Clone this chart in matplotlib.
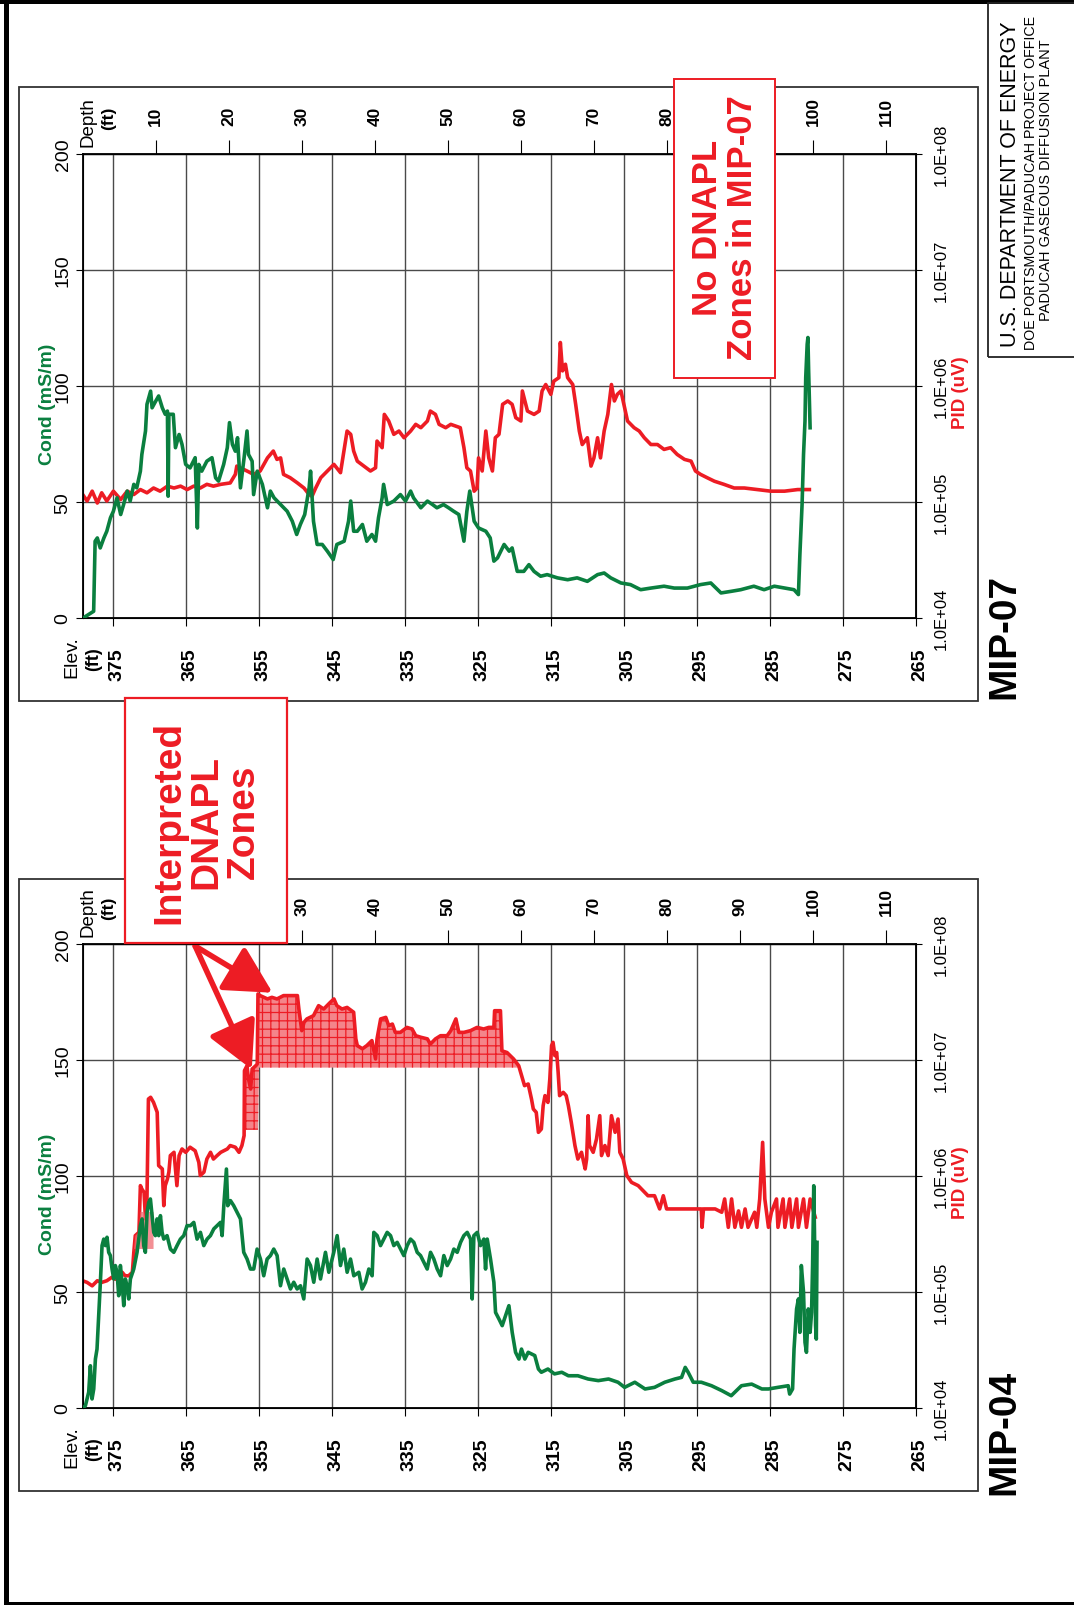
import numpy as np
import matplotlib.pyplot as plt
import matplotlib.transforms as mtransforms
from matplotlib.patches import Rectangle
from matplotlib.ticker import NullLocator

W, H = 1074, 1606
SURFACE = 379.1  # ground elevation at the boring (ft)

# ---------------- MIP-07 ----------------
mip07_cond_depth = [
    0.1, 0.4, 1.5, 1.7, 2.0, 2.4, 2.9, 3.3, 3.8, 4.2,
    4.7, 5.2, 5.6, 6.1, 6.5, 7.0, 7.4, 7.9, 8.1, 8.6,
    8.8, 9.3, 9.5, 10.0, 10.4, 10.9, 11.3, 11.6, 11.7, 11.8,
    12.4, 12.7, 13.2, 13.6, 14.1, 14.7, 15.4, 15.7, 15.9, 16.3,
    17.0, 17.7, 18.2, 18.6, 19.3, 19.8, 20.1, 20.5, 20.9, 21.2,
    21.6, 22.1, 22.5, 22.7, 23.2, 23.4, 23.9, 24.6, 25.3, 25.7,
    26.2, 27.1, 28.0, 28.7, 29.3, 29.8, 30.4, 31.0, 31.2, 31.6,
    32.1, 32.8, 33.5, 34.3, 34.8, 35.8, 36.4, 36.7, 37.1, 37.6,
    38.3, 38.9, 39.6, 40.1, 40.5, 41.0, 41.2, 41.7, 42.6, 43.5,
    44.2, 44.9, 45.3, 46.3, 47.2, 47.9, 48.5, 49.4, 50.1, 50.8,
    51.5, 52.2, 52.6, 53.0, 53.6, 54.2, 55.2, 55.8, 56.3, 56.8,
    57.7, 58.4, 58.8, 59.5, 60.4, 61.1, 61.8, 62.7, 63.6, 65.0,
    66.4, 67.7, 69.1, 70.5, 71.4, 72.3, 73.7, 75.0, 76.4, 77.8,
    79.6, 81.0, 82.8, 84.6, 86.0, 87.4, 88.8, 90.1, 91.9, 93.3,
    94.7, 96.1, 97.4, 98.0, 98.2, 98.5, 98.7, 98.9, 99.0, 99.2,
    99.3, 99.4, 99.5, 99.6,
]
mip07_cond = [
    0, 0.7, 2.9, 33.1, 34.5, 30.2, 34.5, 37.4, 43.2, 46.0,
    51.8, 44.6, 48.9, 54.7, 50.4, 57.6, 56.1, 63.3, 70.5, 80.6,
    92.1, 97.8, 90.6, 93.5, 95.7, 90.6, 87.8, 89.2, 52.5, 87.8,
    87.8, 73.4, 79.1, 74.8, 66.2, 64.7, 69.1, 38.8, 66.2, 63.3,
    67.6, 69.1, 60.4, 59.0, 66.2, 73.4, 84.2, 74.8, 71.9, 77.7,
    56.1, 69.1, 80.6, 70.5, 67.6, 53.2, 63.3, 57.6, 47.5, 54.7,
    51.8, 48.9, 46.0, 41.7, 36.0, 40.3, 44.6, 56.1, 63.3, 41.7,
    31.7, 31.7, 28.8, 25.2, 31.7, 33.1, 41.7, 50.4, 37.4, 37.4,
    40.3, 33.1, 36.0, 33.1, 43.2, 51.8, 57.6, 48.9, 50.4, 53.2,
    50.4, 54.7, 51.8, 47.5, 50.4, 48.9, 47.5, 48.9, 47.5, 46.0,
    44.6, 33.1, 46.0, 54.7, 41.7, 38.8, 37.4, 34.5, 24.5, 25.9,
    31.7, 28.8, 30.2, 20.1, 20.1, 23.0, 20.1, 18.0, 18.7, 17.3,
    16.5, 17.3, 15.8, 18.7, 19.4, 17.3, 15.1, 14.4, 12.2, 12.9,
    13.7, 12.9, 12.9, 14.4, 15.1, 10.8, 11.5, 12.2, 13.7, 12.2,
    13.7, 12.9, 12.2, 10.1, 27.3, 48.9, 70.5, 84.9, 103.6, 118.0,
    120.9, 106.5, 95.0, 82.0,
]
mip07_pid_depth = [
    0.0, 0.6, 1.3, 2.0, 2.6, 3.3, 4.2, 5.2, 6.1, 7.0,
    7.9, 8.8, 9.7, 10.6, 11.6, 12.5, 13.4, 14.3, 15.2, 16.1,
    17.0, 17.9, 18.9, 20.2, 20.9, 21.1, 21.6, 22.5, 23.4, 24.3,
    25.3, 26.1, 26.6, 27.1, 27.5, 28.4, 29.4, 30.3, 31.0, 31.4,
    31.9, 32.6, 33.5, 34.4, 35.3, 36.2, 36.7, 37.1, 37.6, 38.5,
    39.4, 40.1, 40.3, 41.0, 41.3, 41.9, 42.6, 43.3, 44.0, 44.9,
    45.6, 46.3, 47.2, 47.6, 48.3, 48.8, 49.7, 50.4, 51.7, 52.2,
    52.6, 53.1, 53.6, 54.0, 54.2, 54.7, 55.2, 55.6, 56.1, 56.5,
    57.0, 57.5, 58.2, 58.8, 59.3, 60.0, 60.2, 60.9, 61.8, 62.5,
    62.9, 63.4, 64.1, 64.5, 65.2, 65.4, 65.7, 66.1, 66.4, 67.1,
    67.5, 68.0, 68.4, 69.1, 69.6, 70.0, 70.5, 70.9, 71.4, 71.9,
    72.4, 72.8, 73.2, 73.7, 74.1, 74.6, 75.5, 76.2, 76.9, 77.8,
    78.7, 79.6, 80.5, 81.4, 82.4, 83.3, 83.9, 84.6, 85.5, 86.5,
    87.8, 89.2, 90.6, 92.4, 94.2, 96.1, 97.9, 99.5,
]
mip07_pid = [
    1.16e5, 1.02e5, 1.24e5, 9.8e4, 1.20e5, 1.02e5, 1.24e5, 1.05e5, 1.24e5, 1.16e5,
    1.28e5, 1.20e5, 1.32e5, 1.24e5, 1.37e5, 1.32e5, 1.37e5, 1.28e5, 1.37e5, 1.32e5,
    1.42e5, 1.37e5, 1.42e5, 1.46e5, 1.73e5, 2.04e5, 1.97e5, 1.85e5, 1.73e5, 1.85e5,
    2.40e5, 2.75e5, 2.33e5, 2.40e5, 1.73e5, 1.62e5, 1.46e5, 1.32e5, 1.16e5, 1.12e5,
    1.32e5, 1.62e5, 1.85e5, 2.11e5, 1.79e5, 4.09e5, 3.83e5, 2.75e5, 2.25e5, 2.04e5,
    1.85e5, 1.97e5, 3.35e5, 2.94e5, 5.69e5, 4.99e5, 3.83e5, 4.09e5, 3.58e5, 4.09e5,
    4.67e5, 4.37e5, 4.99e5, 6.08e5, 5.69e5, 4.67e5, 4.37e5, 4.67e5, 4.37e5, 2.94e5,
    1.97e5, 1.85e5, 1.24e5, 1.32e5, 2.40e5, 1.85e5, 4.09e5, 2.40e5, 1.85e5, 3.58e5,
    3.83e5, 6.95e5, 7.43e5, 6.95e5, 5.33e5, 4.99e5, 9.06e5, 6.08e5, 5.69e5, 6.08e5,
    9.06e5, 1.03e6, 8.47e5, 1.10e6, 1.18e6, 2.37e6, 1.35e6, 1.54e6, 1.18e6, 1.03e6,
    6.95e5, 4.09e5, 3.13e5, 3.58e5, 2.04e5, 2.40e5, 3.58e5, 2.40e5, 4.09e5, 5.69e5,
    1.03e6, 7.43e5, 8.47e5, 9.06e5, 6.95e5, 4.99e5, 4.37e5, 4.09e5, 3.58e5, 3.13e5,
    3.13e5, 2.84e5, 2.94e5, 2.57e5, 2.33e5, 2.25e5, 1.85e5, 1.73e5, 1.62e5, 1.51e5,
    1.42e5, 1.32e5, 1.32e5, 1.28e5, 1.24e5, 1.24e5, 1.28e5, 1.28e5,
]

# ---------------- MIP-04 ----------------
mip04_cond_depth = [
    0.14, 0.37, 0.82, 1.05, 1.28, 1.51, 1.74, 1.96, 2.19, 2.42,
    2.65, 2.88, 3.11, 3.33, 3.56, 3.79, 4.02, 4.25, 4.47, 4.70,
    4.93, 5.16, 5.39, 5.62, 5.84, 6.07, 6.30, 6.53, 6.99, 7.44,
    7.67, 7.90, 8.13, 8.36, 8.58, 8.81, 9.04, 9.27, 9.50, 9.73,
    9.95, 10.18, 10.41, 10.64, 10.87, 11.10, 11.55, 12.01, 12.47, 12.92,
    13.38, 13.84, 14.29, 14.75, 15.21, 15.66, 16.12, 16.58, 17.03, 17.49,
    17.95, 18.40, 18.86, 19.09, 19.32, 19.68, 19.86, 20.23, 20.68, 21.14,
    21.60, 22.05, 22.51, 22.97, 23.42, 23.88, 24.34, 24.79, 25.25, 25.71,
    26.16, 26.62, 27.08, 27.53, 27.99, 28.45, 28.90, 29.36, 29.82, 30.27,
    30.73, 31.19, 31.64, 32.10, 32.56, 33.24, 33.70, 34.38, 34.84, 35.30,
    35.75, 36.21, 36.67, 37.12, 37.81, 38.26, 38.72, 39.18, 39.63, 39.86,
    40.32, 40.78, 41.23, 41.69, 42.15, 42.60, 43.06, 43.52, 43.97, 44.43,
    44.89, 45.34, 45.80, 46.26, 46.71, 47.17, 47.63, 48.08, 48.54, 49.00,
    49.45, 49.91, 50.37, 50.82, 51.28, 51.74, 52.19, 52.65, 53.11, 53.33,
    53.56, 54.02, 54.47, 54.93, 55.16, 55.39, 55.84, 56.30, 56.53, 56.99,
    57.44, 57.90, 58.36, 58.81, 59.27, 59.73, 60.08, 60.54, 61.0, 61.9,
    62.4, 62.8, 63.7, 64.6, 65.6, 66.5, 67.8, 69.2, 70.6, 72.0,
    73.3, 74.2, 75.6, 77.0, 78.3, 79.7, 81.1, 82.0, 82.5, 82.9,
    83.6, 84.7, 86.1, 87.5, 88.8, 90.2, 91.6, 93.0, 93.9, 95.2,
    96.6, 96.8, 97.2, 97.4, 97.75, 98.0, 98.2, 98.4, 98.7, 98.9,
    99.1, 99.35, 99.6, 99.8, 99.94, 100.1, 100.2, 100.35, 100.45, 100.55,
]
mip04_cond = [
    0.3, 1.0, 6.8, 18.2, 3.9, 8.2, 21.1, 25.4, 39.8, 54.2,
    70.0, 72.8, 70.0, 73.6, 67.1, 65.7, 59.9, 55.6, 61.4, 58.5,
    48.4, 61.4, 54.2, 44.1, 55.6, 52.7, 47.0, 55.6, 59.9, 67.1,
    72.8, 78.6, 81.5, 70.0, 67.1, 84.3, 88.6, 90.1, 82.9, 75.7,
    74.3, 81.5, 74.3, 82.9, 75.7, 72.8, 74.3, 68.5, 67.1, 70.0,
    72.8, 74.3, 78.6, 78.6, 80.0, 72.8, 75.7, 70.0, 72.8, 74.3,
    77.2, 78.6, 80.0, 74.3, 87.2, 103.0, 87.2, 89.4, 87.2, 84.3,
    81.5, 67.1, 64.2, 59.9, 59.9, 68.5, 64.2, 57.0, 64.2, 65.7,
    68.5, 65.7, 52.7, 59.9, 55.6, 51.3, 54.2, 51.3, 52.7, 47.0,
    64.2, 61.4, 54.2, 64.2, 55.6, 67.1, 58.5, 67.1, 74.3, 61.4,
    68.5, 58.5, 64.2, 57.0, 58.5, 51.3, 54.2, 59.9, 57.0, 75.7,
    74.3, 70.0, 72.8, 75.7, 74.3, 70.0, 71.4, 68.5, 65.7, 70.0,
    72.8, 71.4, 67.1, 65.7, 62.8, 59.9, 67.1, 64.2, 59.9, 57.0,
    65.7, 61.4, 64.2, 68.5, 67.1, 71.4, 74.3, 75.7, 72.8, 47.0,
    74.3, 75.7, 70.0, 72.8, 59.9, 72.8, 64.2, 54.2, 41.2, 38.4,
    35.5, 39.8, 44.1, 32.6, 24.0, 21.1, 25.4, 21.1, 24.0, 22.6,
    16.8, 15.4, 16.8, 14.7, 15.4, 13.9, 13.9, 12.5, 11.8, 12.5,
    11.1, 8.9, 11.1, 8.2, 8.9, 11.1, 12.5, 13.2, 17.5, 15.4,
    11.1, 11.1, 9.6, 7.5, 5.3, 9.6, 10.3, 8.2, 8.2, 8.9,
    9.6, 6.0, 8.2, 25.4, 42.7, 47.0, 32.6, 61.4, 49.9, 28.3,
    24.0, 42.7, 32.6, 41.2, 61.4, 95.8, 75.7, 35.5, 29.7, 71.4,
]
mip04_pid_depth = [
    0.0, 0.6, 1.3, 2.0, 2.6, 3.3, 4.0, 4.5, 4.9, 5.4,
    5.8, 6.3, 6.8, 7.0, 7.2, 7.7, 7.9, 8.1, 8.4, 8.6,
    8.8, 9.0, 9.3, 9.7, 10.2, 10.4, 10.9, 11.1, 11.3, 11.6,
    11.8, 12.0, 12.5, 12.9, 13.2, 13.6, 14.1, 14.7, 15.4, 15.9,
    16.1, 16.6, 17.0, 17.5, 17.9, 18.4, 18.9, 19.8, 20.2, 20.9,
    21.4, 21.8, 22.1, 22.15, 22.5, 22.7, 23.0, 23.2, 23.7, 23.9,
    24.0, 24.3, 25.3, 25.9, 26.6, 27.5, 29.4, 29.6, 30.0, 30.3,
    30.7, 31.6, 32.3, 33.0, 33.9, 34.4, 34.8, 35.5, 36.2, 37.1,
    37.4, 37.6, 38.3, 38.9, 39.6, 40.1, 40.3, 40.8, 41.5, 41.9,
    42.4, 42.8, 43.5, 44.4, 45.1, 45.6, 46.3, 47.2, 47.6, 48.3,
    49.0, 49.9, 50.4, 51.1, 51.5, 52.2, 53.1, 54.0, 54.9, 55.6,
    56.3, 56.4, 57.2, 57.4, 58.1, 59.0, 59.7, 60.5, 61.0, 61.45,
    61.7, 62.1, 62.4, 62.8, 63.05, 63.3, 63.7, 63.96, 64.2, 64.4,
    64.65, 64.9, 65.1, 65.3, 65.8, 66.2, 66.5, 66.9, 67.4, 67.8,
    68.3, 68.8, 69.0, 69.2, 69.4, 69.9, 70.35, 70.8, 71.04, 71.5,
    71.95, 72.4, 72.9, 73.3, 73.55, 74.0, 74.5, 75.15, 76.06, 76.5,
    77.4, 78.3, 79.0, 79.5, 79.95, 81.1, 82.9, 84.7, 84.8, 85.0,
    86.6, 87.5, 87.9, 88.4, 88.85, 89.3, 89.8, 90.2, 90.7, 91.1,
    92.0, 92.3, 92.7, 93.1, 93.4, 93.9, 94.3, 95.0, 95.2, 95.9,
    96.15, 96.8, 97.1, 97.75, 98.0, 98.7, 99.1, 99.6, 100.3,
]
mip04_pid = [
    1.25e5, 1.21e5, 1.13e5, 1.25e5, 1.21e5, 1.25e5, 1.34e5, 1.29e5, 1.43e5, 1.48e5,
    1.38e5, 1.38e5, 1.48e5, 2.20e5, 3.06e5, 3.27e5, 8.26e5, 7.73e5, 7.23e5, 4.26e5,
    6.34e5, 4.61e6, 4.77e6, 4.31e6, 3.54e6, 1.23e6, 1.15e6, 5.55e5, 8.26e5, 9.42e5,
    1.08e6, 1.50e6, 1.60e6, 8.26e5, 1.50e6, 1.71e6, 1.60e6, 1.77e6, 1.65e6, 1.31e6,
    1.01e6, 1.08e6, 1.40e6, 1.60e6, 1.40e6, 1.50e6, 1.60e6, 1.71e6, 1.83e6, 1.77e6,
    1.60e6, 1.83e6, 2.23e6, 8.09e6, 8.93e6, 6.85e6, 5.62e6, 8.36e6, 8.93e6, 9.24e6,
    3.71e7, 3.59e7, 3.36e7, 3.47e7, 3.36e7, 3.59e7, 3.59e7, 2.75e7, 1.79e7, 2.11e7,
    2.26e7, 2.41e7, 2.94e7, 2.75e7, 3.14e7, 3.36e7, 2.94e7, 2.75e7, 2.84e7, 2.58e7,
    1.52e7, 1.33e7, 1.25e7, 1.33e7, 1.47e7, 1.02e7, 1.52e7, 2.26e7, 2.33e7, 1.98e7,
    2.04e7, 1.73e7, 1.73e7, 1.91e7, 1.85e7, 1.62e7, 1.57e7, 1.52e7, 1.37e7, 1.52e7,
    1.62e7, 1.62e7, 1.79e7, 2.26e7, 1.73e7, 1.73e7, 1.79e7, 1.91e7, 1.85e7, 1.91e7,
    1.91e7, 2.66e7, 2.66e7, 1.20e7, 1.16e7, 1.02e7, 8.93e6, 6.01e6, 6.21e6, 4.61e6,
    3.78e6, 3.54e6, 2.38e6, 2.54e6, 4.04e6, 4.93e6, 4.31e6, 6.85e6, 1.33e7, 1.42e7,
    1.09e7, 1.16e7, 7.83e6, 4.93e6, 5.26e6, 4.93e6, 4.04e6, 2.90e6, 1.83e6, 1.40e6,
    1.60e6, 1.15e6, 1.40e6, 3.31e6, 1.83e6, 1.60e6, 2.08e6, 3.31e6, 1.50e6, 1.83e6,
    1.50e6, 3.31e6, 2.38e6, 3.10e6, 1.60e6, 1.40e6, 1.01e6, 8.81e5, 8.26e5, 7.73e5,
    6.76e5, 6.76e5, 5.20e5, 6.76e5, 5.20e5, 5.20e5, 5.20e5, 5.20e5, 3.61e5, 5.20e5,
    5.20e5, 4.87e5, 6.34e5, 3.61e5, 6.34e5, 3.61e5, 5.00e5, 3.61e5, 5.20e5, 3.61e5,
    4.87e5, 3.61e5, 6.34e5, 1.95e6, 6.34e5, 3.61e5, 4.87e5, 6.34e5, 3.61e5, 6.34e5,
    3.61e5, 6.34e5, 3.61e5, 6.34e5, 3.61e5, 6.34e5, 3.61e5, 6.34e5, 4.41e5,
]

# interpreted DNAPL intervals in MIP-04: (top depth, bottom depth, lower PID bound)
dnapl_zones = [(23.95, 60.6, 8.6e6), (21.8, 24.0, 2.5e6)]
dnapl_minor = (7.0, 10.1, 2.35e5, 4.9e5)

elev_ticks = [375, 365, 355, 345, 335, 325, 315, 305, 295, 285, 275, 265]
depth_ticks = [10, 20, 30, 40, 50, 60, 70, 80, 90, 100, 110]
cond_ticks = [0, 50, 100, 150, 200]
pid_ticks = [1e4, 1e5, 1e6, 1e7, 1e8]
pid_labels = ['1.0E+04', '1.0E+05', '1.0E+06', '1.0E+07', '1.0E+08']

RED = '#ED1C24'
GREEN = '#0A7F3F'
GRID = '#4a4a4a'

plt.rcParams['font.family'] = 'Liberation Sans'
plt.rcParams['hatch.linewidth'] = 0.9

fig = plt.figure(figsize=(W / 100, H / 100), dpi=100)


def page_rect(x0, y0, x1, y1, **kw):
    r = Rectangle((x0 / W, 1 - y1 / H), (x1 - x0) / W, (y1 - y0) / H,
                  transform=fig.transFigure, **kw)
    fig.add_artist(r)
    return r


def page_text(x, y, s, **kw):
    kw.setdefault('rotation', 90)
    kw.setdefault('ha', 'center')
    kw.setdefault('va', 'center')
    kw.setdefault('zorder', 7)
    return fig.text(x / W, 1 - y / H, s, **kw)


def draw_log(top, cond_depth, cond, pid_depth, pid, covered=()):
    left, right, height = 82.7, 916, 464
    ax = fig.add_axes([left / W, 1 - (top + height) / H, (right - left) / W, height / H])
    ax.set_xlim(SURFACE, 265)
    ax.set_yscale('log')
    ax.set_ylim(1e4, 1e8)

    # elevation along the bottom
    ax.set_xticks(elev_ticks)
    ax.set_xticklabels([str(e) for e in elev_ticks], rotation=90, fontsize=14,
                       fontweight='bold')
    ax.tick_params(axis='x', length=6, pad=15)
    shift = mtransforms.ScaledTranslation(4 / 100, 0, fig.dpi_scale_trans)
    for lab in ax.get_xticklabels():
        lab.set_transform(lab.get_transform() + shift)

    ax.grid(True, color=GRID, lw=1.0)
    for sp in ax.spines.values():
        sp.set_linewidth(1.3)

    # depth along the top (labels under a callout box are left blank)
    dax = ax.secondary_xaxis('top', functions=(lambda e: SURFACE - e, lambda d: SURFACE - d))
    dax.set_xticks(depth_ticks)
    dax.set_xticklabels(['' if d in covered else str(d) for d in depth_ticks],
                        rotation=90, fontsize=12.5, fontweight='bold')
    dax.tick_params(length=10, pad=11)

    ax.plot(SURFACE - np.array(pid_depth), pid, color=RED, lw=2.6,
            solid_joinstyle='round', zorder=3)

    cax = ax.twinx()
    cax.yaxis.tick_left()
    cax.set_ylim(0, 200)
    cax.set_yticks(cond_ticks)
    cax.set_yticklabels([str(c) for c in cond_ticks], rotation=90, va='center', fontsize=14)
    cax.tick_params(axis='y', length=5, pad=3)
    cax.plot(SURFACE - np.array(cond_depth), cond, color=GREEN, lw=2.6,
             solid_joinstyle='round', zorder=3)

    # PID scale on the right (after twinx, which moves it)
    ax.yaxis.tick_right()
    ax.set_yticks(pid_ticks)
    ax.set_yticklabels(pid_labels, rotation=90, va='center', fontsize=12)
    ax.yaxis.set_minor_locator(NullLocator())
    ax.tick_params(axis='y', length=4, pad=9)

    # axis captions
    ax.text(-0.0134, -0.082, 'Elev.', transform=ax.transAxes, rotation=90,
            ha='center', va='center', fontsize=14)
    ax.text(0.0136, -0.086, '(ft)', transform=ax.transAxes, rotation=90,
            ha='center', va='center', fontsize=13, fontweight='bold')
    ax.text(0.006, 1.071, 'Depth', transform=ax.transAxes, rotation=90,
            ha='center', va='center', fontsize=13.5)
    ax.text(0.031, 1.079, '(ft)', transform=ax.transAxes, rotation=90,
            ha='center', va='center', fontsize=12.5, fontweight='bold')
    ax.text(-0.042, 0.463, 'Cond (mS/m)', transform=ax.transAxes, rotation=90,
            ha='center', va='center', fontsize=14, fontweight='bold', color=GREEN)
    ax.text(1.053, 0.487, 'PID (uV)', transform=ax.transAxes, rotation=90,
            ha='center', va='center', fontsize=13.5, fontweight='bold', color=RED)
    return ax


# page frame
page_rect(0, 0, W, 5, facecolor='black', edgecolor='none')
page_rect(4, 0, 9, H, facecolor='black', edgecolor='none')
page_rect(4, 1603, W, H, facecolor='black', edgecolor='none')

# panel borders
page_rect(19, 88, 978, 702, facecolor='none', edgecolor='#333333', lw=1.3)
page_rect(19, 880, 978, 1492, facecolor='none', edgecolor='#333333', lw=1.3)

# title block
page_rect(988, 4, W + 5, 358, facecolor='none', edgecolor='#222222', lw=1.3)
page_text(1010, 184, 'U.S. DEPARTMENT OF ENERGY', fontsize=15.5)
page_text(1031, 183, 'DOE PORTSMOUTH/PADUCAH PROJECT OFFICE', fontsize=10.3)
page_text(1046, 180, 'PADUCAH GASEOUS DIFFUSION PLANT', fontsize=10.5)

ax07 = draw_log(155, mip07_cond_depth, mip07_cond, mip07_pid_depth, mip07_pid,
                covered=(90,))
ax04 = draw_log(945, mip04_cond_depth, mip04_cond, mip04_pid_depth, mip04_pid,
                covered=(10, 20))

# DNAPL shading on MIP-04
d04 = np.array(mip04_pid_depth)
p04 = np.array(mip04_pid)
e04 = SURFACE - d04
for top_d, bot_d, floor in dnapl_zones:
    sel = (d04 >= top_d) & (d04 <= bot_d)
    ax04.fill_between(e04, p04, floor, where=sel & (p04 > floor), interpolate=True,
                      facecolor='#F4858A', edgecolor=RED, hatch='++', lw=0, zorder=2)
top_d, bot_d, lo, hi = dnapl_minor
sel = (d04 >= top_d) & (d04 <= bot_d)
ax04.fill_between(e04, lo, np.minimum(p04, hi), where=sel, facecolor='#F06A70',
                  edgecolor='none', alpha=0.75, zorder=4)

# callouts
page_rect(125, 699, 287, 944, facecolor='white', edgecolor=RED, lw=1.6, zorder=6)
page_text(206.5, 822, 'Interpreted\nDNAPL\nZones', color=RED, fontsize=28,
          fontweight='bold', linespacing=1.05)
page_rect(674, 80, 775, 379, facecolor='white', edgecolor=RED, lw=1.4, zorder=6)
page_text(725, 228, 'No DNAPL\nZones in MIP-07', color=RED, fontsize=25,
          fontweight='bold', linespacing=1.05)

arrow = dict(arrowstyle='-|>,head_length=0.6,head_width=0.32', color=RED, lw=4,
             mutation_scale=48, shrinkA=0, shrinkB=0)
ax04.annotate('', xy=(353.1, 3.8e7), xytext=(363.7, 9.6e7), arrowprops=arrow,
              annotation_clip=False, zorder=8)
ax04.annotate('', xy=(355.95, 8.3e6), xytext=(363.7, 9.6e7), arrowprops=arrow,
              annotation_clip=False, zorder=8)

# boring names
page_text(1004, 636, 'MIP-07', fontsize=28, fontweight='bold')
page_text(1004, 1432, 'MIP-04', fontsize=28, fontweight='bold')

fig.savefig('out.png', dpi=100)
